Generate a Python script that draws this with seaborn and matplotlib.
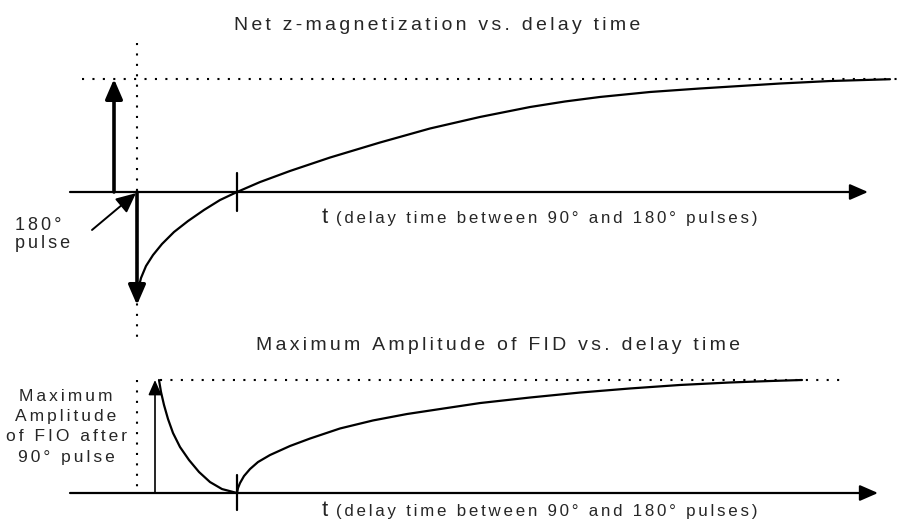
import matplotlib
matplotlib.use("Agg")
import matplotlib.pyplot as plt
import seaborn as sns

# ---- data (t in units of the zero-crossing time) ----
# top panel: net z-magnetization (normalised, -1..1)
t_mz = [0.01, 0.04, 0.09, 0.16, 0.25, 0.37, 0.51, 0.67, 0.83, 1.00, 1.23,
        1.53, 1.93, 2.43, 2.93, 3.43, 3.93, 4.28, 4.63, 5.13, 5.63, 6.03,
        6.43, 6.93, 7.53]
mz = [-0.867, -0.761, -0.655, -0.558, -0.460, -0.354, -0.257, -0.159, -0.071,
      0.000, 0.088, 0.186, 0.305, 0.438, 0.562, 0.664, 0.752, 0.801, 0.841,
      0.885, 0.916, 0.938, 0.960, 0.982, 0.998]

# bottom panel: maximum FID amplitude (|Mz|, 0..1)
t_fid = [0.22, 0.24, 0.27, 0.31, 0.36, 0.43, 0.52, 0.62, 0.73, 0.85, 1.00,
         1.01, 1.03, 1.07, 1.13, 1.21, 1.33, 1.53, 1.73, 2.03, 2.36, 2.70,
         3.03, 3.43, 3.93, 4.43, 4.93, 5.43, 5.93, 6.33, 6.65]
fid = [1.000, 0.894, 0.779, 0.655, 0.531, 0.407, 0.292, 0.186, 0.097, 0.035,
       0.000, 0.044, 0.088, 0.150, 0.212, 0.274, 0.336, 0.416, 0.482, 0.571,
       0.642, 0.699, 0.743, 0.796, 0.845, 0.889, 0.925, 0.956, 0.978, 0.991,
       1.000]

t_null = 1.0          # zero crossing marked with a tick
t_180 = -0.23         # position of the initial +Mz arrow
t_90 = 0.18           # 90 deg pulse arrow in bottom panel

title_top = "Net z-magnetization vs. delay time"
title_bot = "Maximum Amplitude of FID vs. delay time"
xlabel = "(delay time between 90° and 180° pulses)"
pulse_lines = ["180°", "pulse"]
amp_lines = ["Maximum", "Amplitude", "of FIO after", "90° pulse"]

# ---- style ----
sns.set_style("white")
plt.rcParams['font.family'] = ['Liberation Sans', 'DejaVu Sans']
INK = 'black'
GAP = "\u200a\u200a"   # letter spacing: two hair spaces


def spaced(s):
    # reference text is set with wide letter spacing
    return GAP.join(s)


W, H = 902, 521
fig = plt.figure(figsize=(W / 100, H / 100), dpi=100)
split = 345 / H
ax1 = fig.add_axes([0, 1 - split, 1, split])
ax2 = fig.add_axes([0, 0, 1, 1 - split])
xlim = (-1.37, 7.65)
ax1.set_xlim(*xlim)
ax1.set_ylim((192 - 345) / 113, 192 / 113)
ax2.set_xlim(*xlim)
ax2.set_ylim((493 - 521) / 113, (493 - 345) / 113)
for ax in (ax1, ax2):
    ax.set_axis_off()

dot = (0, (1, 4))
axis_arrow = dict(arrowstyle='-|>,head_length=0.55,head_width=0.24',
                  mutation_scale=20, lw=1.6, color=INK, shrinkA=0, shrinkB=0)

# ================= TOP PANEL =================
ax1.annotate('', xy=(7.31, 0), xytext=(-0.67, 0), arrowprops=axis_arrow)
# dotted guides
ax1.plot([-0.55, 7.65], [1, 1], ls=dot, lw=1.5, color=INK)
ax1.plot([0, 0], [1.32, -1.29], ls=dot, lw=1.5, color=INK)
# initial +Mz and inverted -Mz arrows
for y_end, x0 in [(1.0, t_180), (-1.0, 0.0)]:
    ax1.annotate('', xy=(x0, y_end), xytext=(x0, 0),
                 arrowprops=dict(arrowstyle='-|>,head_length=0.6,head_width=0.26',
                                 mutation_scale=20, lw=2.6, color=INK,
                                 shrinkA=0, shrinkB=0))
# recovery curve
sns.lineplot(x=t_mz, y=mz, sort=False, ax=ax1, color=INK, lw=1.6)
ax1.plot([t_null, t_null], [0.17, -0.17], color=INK, lw=1.6)
# 180 pulse pointer
ax1.annotate('', xy=(-0.01, -0.01), xytext=(-0.45, -0.336),
             arrowprops=dict(arrowstyle='-|>,head_length=0.6,head_width=0.28',
                             mutation_scale=20, lw=1.4, color=INK,
                             shrinkA=0, shrinkB=0))
for txt, yy in zip(pulse_lines, [-0.336, -0.496]):
    ax1.text(-1.22, yy, spaced(txt), fontsize=13, ha='left', va='baseline')
ax1.text(3.005, 1.434, spaced(title_top), fontsize=14, ha='center', va='baseline')
ax1.text(1.85, -0.274, "t", fontsize=16, ha='left', va='baseline')
ax1.text(1.99, -0.274, spaced(xlabel), fontsize=12.2, ha='left', va='baseline')

# ================= BOTTOM PANEL =================
ax2.annotate('', xy=(7.41, 0), xytext=(-0.67, 0), arrowprops=axis_arrow)
ax2.plot([0.23, 7.05], [1, 1], ls=dot, lw=1.5, color=INK)
ax2.plot([0, 0], [1, 0], ls=dot, lw=1.5, color=INK)
ax2.annotate('', xy=(t_90, 1.0), xytext=(t_90, 0),
             arrowprops=dict(arrowstyle='-|>,head_length=0.45,head_width=0.2',
                             mutation_scale=20, lw=1.2, color=INK,
                             shrinkA=0, shrinkB=0))
sns.lineplot(x=t_fid, y=fid, sort=False, ax=ax2, color=INK, lw=1.6)
ax2.plot([t_null, t_null], [0.16, -0.15], color=INK, lw=1.6)
for txt, yy in zip(amp_lines, [0.814, 0.637, 0.460, 0.274]):
    ax2.text(-0.71, yy, spaced(txt), fontsize=12.5, ha='center', va='baseline')
ax2.text(3.61, 1.265, spaced(title_bot), fontsize=14, ha='center', va='baseline')
ax2.text(1.85, -0.204, "t", fontsize=16, ha='left', va='baseline')
ax2.text(1.99, -0.204, spaced(xlabel), fontsize=12.2, ha='left', va='baseline')

fig.savefig("out.png", dpi=100)
